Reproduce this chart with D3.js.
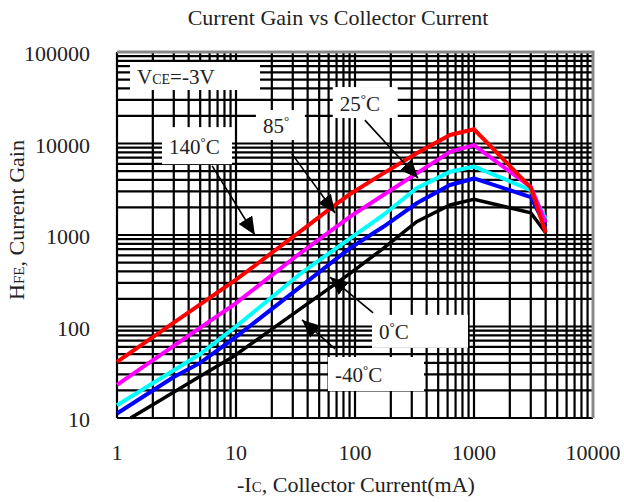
<!DOCTYPE html>
<html>
<head>
<meta charset="utf-8">
<script src="https://cdn.jsdelivr.net/npm/d3@7"></script>
<style>
  body { margin: 0; background: #fff; }
  text { font-family: "Liberation Serif", "DejaVu Serif", serif; fill: #222; }
</style>
</head>
<body>
<div id="wrapper"></div>
<script>
// 1. Data
const xTickLabels = [1, 10, 100, 1000, 10000]
const yTickLabels = [10, 100, 1000, 10000, 100000]

// -Ic in mA, hFE
const icMinus40 = [1.3, 2, 5, 9.5, 91, 173, 330, 629, 1000, 3000, 4000]
const hfeMinus40 = [10, 14, 28.6, 47, 380, 716, 1397, 2130, 2450, 1750, 1060]

const ic0 = [1, 3, 5, 10, 91, 173, 330, 629, 1000, 3000, 4000]
const hfe0 = [11.2, 28, 40, 77, 720, 1230, 2220, 3520, 4150, 2600, 1250]

const ic25 = [1, 5, 10, 34.5, 91, 173, 330, 629, 1000, 3000, 4000]
const hfe25 = [13.8, 50, 100, 375, 920, 1656, 3240, 4920, 5600, 3100, 1500]

const ic85 = [1, 10, 34.5, 91, 173, 330, 629, 1000, 3000, 4000]
const hfe85 = [23, 180, 631, 1585, 2735, 4720, 8130, 9600, 3350, 1380]

const ic140 = [1, 10, 34.5, 65, 91, 173, 330, 629, 1000, 3000, 4000]
const hfe140 = [41, 325, 1087, 2040, 2805, 4720, 7820, 12400, 14300, 3300, 1060]

const seriesNames = ['-40C', '0C', '25C', '85C', '140C']
const seriesColors = ['#000000', '#0000ff', '#00ffff', '#ff00ff', '#ff0000']

const series = [
    { ic: icMinus40, hfe: hfeMinus40 },
    { ic: ic0, hfe: hfe0 },
    { ic: ic25, hfe: hfe25 },
    { ic: ic85, hfe: hfe85 },
    { ic: ic140, hfe: hfe140 },
].map((s, i) => ({
    name: seriesNames[i],
    color: seriesColors[i],
    points: s.ic.map((x, j) => ({ x: x, y: s.hfe[j] }))
}))

// callout labels: text, box corner (data units), box size, arrow from -> to (data units)
const callouts = [
    { text: '140', unit: '°C', box: [2.39, 15100], size: [70, 37], from: [6.3, 5700], to: [14.4, 1000] },
    { text: '85', unit: '°', box: [14.7, 23200], size: [49, 30], from: [29.5, 7700], to: [68, 1740] },
    { text: '25', unit: '°C', box: [65, 41400], size: [65, 31], from: [121, 18000], to: [338, 4200] },
    { text: '0', unit: '°C', box: [139, 134], size: [96, 33], from: [142, 141], to: [61.6, 347] },
    { text: '-40', unit: '°C', box: [59.3, 46.4], size: [96, 34], from: [68, 57], to: [35.9, 118] },
]

// 2. Dimensions
let dimensions = {
    width: 624,
    height: 502,
    margin: { top: 52, right: 31, bottom: 84, left: 117 }
}
dimensions.boundedWidth = dimensions.width - dimensions.margin.left - dimensions.margin.right
dimensions.boundedHeight = dimensions.height - dimensions.margin.top - dimensions.margin.bottom

// 3. Canvas
const wrapper = d3.select('#wrapper')
    .append('svg')
        .attr('width', dimensions.width)
        .attr('height', dimensions.height)

wrapper.append('defs').append('marker')
    .attr('id', 'head')
    .attr('markerUnits', 'userSpaceOnUse')
    .attr('markerWidth', 18)
    .attr('markerHeight', 16)
    .attr('refX', 18)
    .attr('refY', 8)
    .attr('orient', 'auto')
  .append('path')
    .attr('d', 'M0,0 L18,8 L0,16 Z')
    .attr('fill', '#000')

const bounds = wrapper.append('g')
    .attr('transform', `translate(${dimensions.margin.left},${dimensions.margin.top})`)

// Scales
const xScale = d3.scaleLog()
    .domain([1, 10000])
    .range([0, dimensions.boundedWidth])

const yScale = d3.scaleLog()
    .domain([10, 100000])
    .range([dimensions.boundedHeight, 0])

// grid
const xGrid = xScale.ticks().filter(d => d < 10000)
const yGrid = yScale.ticks().filter(d => d < 100000)

bounds.append('g').selectAll('line')
    .data(xGrid)
    .enter().append('line')
        .attr('x1', d => xScale(d)).attr('x2', d => xScale(d))
        .attr('y1', 0).attr('y2', dimensions.boundedHeight)
        .attr('stroke', '#000').attr('stroke-width', 2.2)

bounds.append('g').selectAll('line')
    .data(yGrid)
    .enter().append('line')
        .attr('x1', 0).attr('x2', dimensions.boundedWidth)
        .attr('y1', d => yScale(d)).attr('y2', d => yScale(d))
        .attr('stroke', '#000').attr('stroke-width', 2.2)

// top + right frame (grey)
bounds.append('path')
    .attr('d', `M0,0 H${dimensions.boundedWidth} V${dimensions.boundedHeight}`)
    .attr('fill', 'none')
    .attr('stroke', '#888')
    .attr('stroke-width', 3)

// 4. Curves
const lineGenerator = d3.line()
    .x(d => xScale(d.x))
    .y(d => yScale(d.y))

bounds.selectAll('.curve')
    .data(series)
    .enter().append('path')
        .attr('class', 'curve')
        .attr('d', d => lineGenerator(d.points))
        .attr('fill', 'none')
        .attr('stroke', d => d.color)
        .attr('stroke-width', d => d.color == '#000000' ? 3.5 : 4)
        .attr('stroke-linejoin', 'miter')

// 5. Callouts
const callout = bounds.selectAll('.callout')
    .data(callouts)
    .enter().append('g')
        .attr('class', 'callout')

callout.append('rect')
    .attr('x', d => xScale(d.box[0]))
    .attr('y', d => yScale(d.box[1]))
    .attr('width', d => d.size[0])
    .attr('height', d => d.size[1])
    .attr('fill', '#fff')

const calloutText = callout.append('text')
    .attr('x', d => xScale(d.box[0]) + 7)
    .attr('y', d => yScale(d.box[1]) + d.size[1] * 0.5 + 8)
    .style('font-size', '21px')
calloutText.append('tspan').text(d => d.text)
calloutText.append('tspan')
    .text(d => d.unit[0])
    .style('font-size', '13px')
    .attr('dy', -8)
calloutText.append('tspan')
    .text(d => d.unit.slice(1))
    .attr('dy', 8)

callout.append('line')
    .attr('x1', d => xScale(d.from[0]))
    .attr('y1', d => yScale(d.from[1]))
    .attr('x2', d => xScale(d.to[0]))
    .attr('y2', d => yScale(d.to[1]))
    .attr('stroke', '#000')
    .attr('stroke-width', 1.6)
    .attr('marker-end', 'url(#head)')

// VCE box
bounds.append('rect')
    .attr('x', 13).attr('y', 10)
    .attr('width', 130).attr('height', 28)
    .attr('fill', '#fff')
const vce = bounds.append('text')
    .attr('x', 20).attr('y', 32)
    .style('font-size', '21px')
vce.append('tspan').text('V')
vce.append('tspan').text('CE').style('font-size', '14px')
vce.append('tspan').text('=-3V')

// 6. Peripherals
const xAxis = bounds.append('g')
    .attr('transform', `translate(0,${dimensions.boundedHeight})`)
xAxis.selectAll('text')
    .data(xTickLabels)
    .enter().append('text')
        .attr('x', d => xScale(d))
        .attr('y', 42)
        .attr('text-anchor', 'middle')
        .style('font-size', '22px')
        .text(d => d)

const yAxis = bounds.append('g')
yAxis.selectAll('text')
    .data(yTickLabels)
    .enter().append('text')
        .attr('x', -27)
        .attr('y', d => yScale(d) + 9)
        .attr('text-anchor', 'end')
        .style('font-size', '22px')
        .text(d => d)

const xLabel = wrapper.append('text')
    .attr('x', 356)
    .attr('y', 492)
    .attr('text-anchor', 'middle')
    .style('font-size', '22px')
xLabel.append('tspan').text('-I')
xLabel.append('tspan').text('C').style('font-size', '15px')
xLabel.append('tspan').text(', Collector Current(mA)')

const yLabel = wrapper.append('text')
    .attr('transform', 'translate(24,220) rotate(-90)')
    .attr('text-anchor', 'middle')
    .style('font-size', '22px')
yLabel.append('tspan').text('H')
yLabel.append('tspan').text('FE').style('font-size', '15px')
yLabel.append('tspan').text(', Current Gain')

wrapper.append('text')
    .attr('x', 338)
    .attr('y', 25)
    .attr('text-anchor', 'middle')
    .style('font-size', '22px')
    .text('Current Gain vs Collector Current')
</script>
</body>
</html>
